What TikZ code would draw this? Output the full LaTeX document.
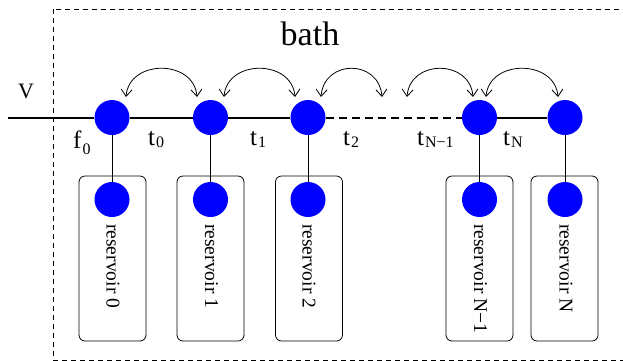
\documentclass[tikz,border=0pt]{standalone}
\usepackage{fontspec}
\setmainfont{Liberation Serif}
\usetikzlibrary{arrows.meta}
\newcommand\sublbl[3]{#1\kern1pt\raisebox{-#3}{\fontsize{16}{16}\selectfont #2}}
\begin{document}
\begin{tikzpicture}[x=1pt,y=-1pt,
  site/.style={circle,fill=blue,inner sep=0pt,minimum size=35pt},
  resbox/.style={draw,rounded corners=6pt,line width=0.8pt,minimum width=67pt,minimum height=165pt,inner sep=0pt},
  chain/.style={line width=2pt},
  chaindash/.style={line width=2pt,dash pattern=on 8pt off 5pt},
  stem/.style={line width=0.9pt},
  hop/.style={line width=0.8pt,{Straight Barb[length=7pt,width=11pt]}-{Straight Barb[length=7pt,width=11pt]}},
  lbl/.style={inner sep=0pt,anchor=base west,font=\fontsize{25}{25}\selectfont},
  restext/.style={inner sep=0pt,rotate=-90,anchor=west,font=\fontsize{19.5}{19.5}\selectfont},
  bathline/.style={line width=0.8pt,dash pattern=on 5pt off 4pt}]
\useasboundingbox (0,0) rectangle (623,360);
\clip (0,0) rectangle (623,360);
% bath region
\draw[bathline] (53,9) rectangle (660,360);
\node[inner sep=0pt,anchor=base,font=\fontsize{34}{34}\selectfont] (bath) at (310,45) {bath};
% reservoir boxes
\node[resbox] (b0) at (112.5,258.5) {};
\node[resbox] (b1) at (210.5,258.5) {};
\node[resbox] (b2) at (309,258.5) {};
\node[resbox] (b3) at (479.5,258.5) {};
\node[resbox] (b4) at (564.5,258.5) {};
% chain sites
\node[site] (n0) at (112,117.5) {};
\node[site] (n1) at (210.5,117.5) {};
\node[site] (n2) at (308,117.5) {};
\node[site] (n3) at (479.5,117.5) {};
\node[site] (n4) at (565,117.5) {};
% reservoir sites
\node[site] (r0) at (112,199.5) {};
\node[site] (r1) at (210.5,199.5) {};
\node[site] (r2) at (308,199.5) {};
\node[site] (r3) at (479.5,199.5) {};
\node[site] (r4) at (565,199.5) {};
% reservoir texts
\node[restext] (t0) at (113,224) {reservoir 0};
\node[restext] (t1) at (211.5,224) {reservoir 1};
\node[restext] (t2) at (309,224) {reservoir 2};
\node[restext] (t3) at (480.5,224) {reservoir N−1};
\node[restext] (t4) at (566,224) {reservoir N};
% chain
\coordinate (vin) at (8,117.5);
\draw[chain] (vin) -- (n0);
\draw[chain] (n0) -- (n1);
\draw[chain] (n1) -- (n2);
\draw[chaindash] (n2) -- (n3);
\draw[chain] (n3) -- (n4);
\draw[stem] (n0) -- (r0);
\draw[stem] (n1) -- (r1);
\draw[stem] (n2) -- (r2);
\draw[stem] (n3) -- (r3);
\draw[stem] (n4) -- (r4);
% hopping arcs
\coordinate (h0a) at (126,97); \coordinate (h0b) at (197,97);
\coordinate (h1a) at (224,97); \coordinate (h1b) at (295,97);
\coordinate (h2a) at (321,97); \coordinate (h2b) at (382,97);
\coordinate (h3a) at (407,97); \coordinate (h3b) at (473,97);
\coordinate (h4a) at (486,97); \coordinate (h4b) at (558,97);
\draw[hop] (h0a) .. controls +(3,-38) and +(-3,-38) .. (h0b);
\draw[hop] (h1a) .. controls +(3,-38) and +(-3,-38) .. (h1b);
\draw[hop] (h2a) .. controls +(3,-38) and +(-3,-38) .. (h2b);
\draw[hop] (h3a) .. controls +(3,-38) and +(-3,-38) .. (h3b);
\draw[hop] (h4a) .. controls +(3,-38) and +(-3,-38) .. (h4b);
% labels
\node[lbl,font=\fontsize{22}{22}\selectfont] (lv) at (18,98) {V};
\node[lbl] (lf) at (73,148) {\sublbl{f}{0}{6pt}};
\node[lbl] (l0) at (148,145) {\sublbl{t}{0}{2.5pt}};
\node[lbl] (l1) at (250,145) {\sublbl{t}{1}{2.5pt}};
\node[lbl] (l2) at (343,145) {\sublbl{t}{2}{2.5pt}};
\node[lbl] (l3) at (417,145) {\sublbl{t}{N−1}{2.5pt}};
\node[lbl] (l4) at (503,145) {\sublbl{t}{N}{2.5pt}};
\end{tikzpicture}
\end{document}
